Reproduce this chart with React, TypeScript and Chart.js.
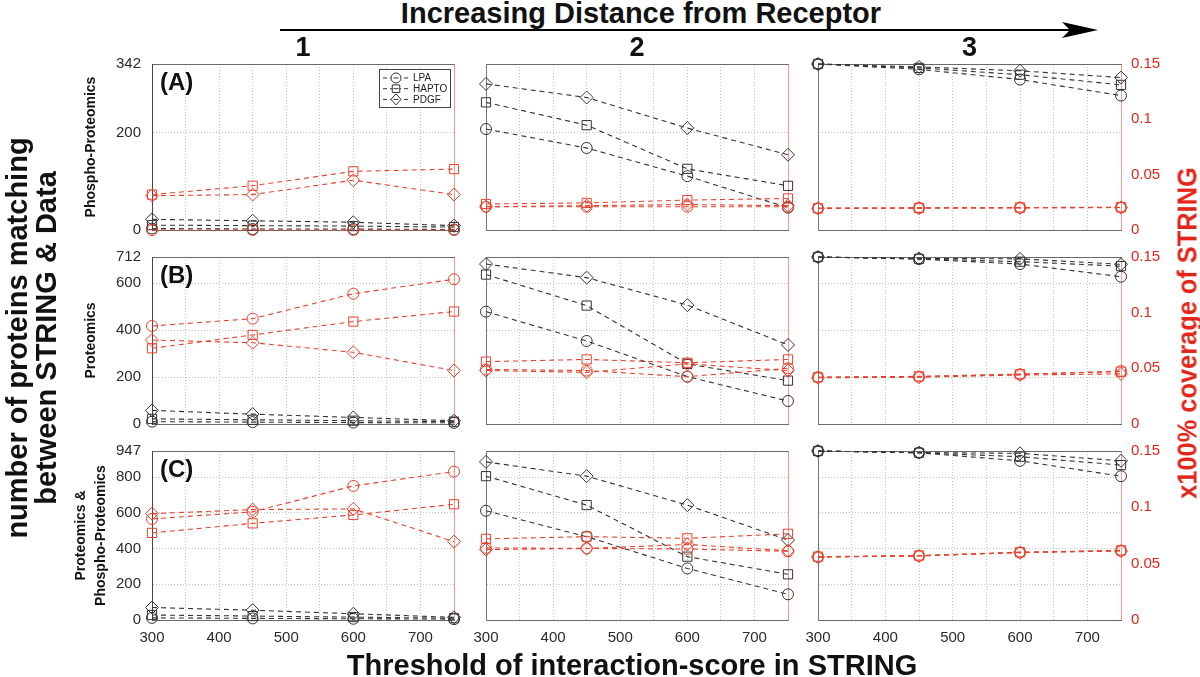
import React, { useEffect, useRef } from 'react';
import { Chart, registerables } from 'chart.js';

Chart.register(...registerables);

// ---------------- data ----------------
const THRESHOLDS = [300, 450, 600, 750];
const X_TICK_LABELS = [300, 400, 500, 600, 700];
const SERIES_NAMES = ['LPA', 'HAPTO', 'PDGF'];
const COLUMN_NAMES = ['1', '2', '3'];
const ROW_LETTERS = ['(A)', '(B)', '(C)'];
const ROW_NAMES: (string | string[])[] = ['Phospho-Proteomics', 'Proteomics', ['Proteomics &', 'Phospho-Proteomics']];
const ROW_MAX = [342, 712, 947];
const COUNT_TICKS_A = [0, 200, 342];
const COUNT_TICKS_B = [0, 200, 400, 600, 712];
const COUNT_TICKS_C = [0, 200, 400, 600, 800, 947];
const COVERAGE_TICKS = [0, 0.05, 0.1, 0.15];

// number of proteins matching (left axis) – rows: LPA, HAPTO, PDGF
const COUNT_A1 = [[3, 2, 2, 1], [10, 9, 8, 6], [22, 19, 16, 9]];
const COUNT_A2 = [[208, 169, 111, 46], [263, 216, 126, 91], [301, 273, 210, 155]];
const COUNT_A3 = [[342, 331, 310, 277], [342, 334, 320, 299], [342, 336, 328, 314]];
const COUNT_B1 = [[10, 8, 6, 5], [22, 18, 14, 10], [58, 42, 28, 14]];
const COUNT_B2 = [[479, 354, 202, 98], [637, 505, 256, 185], [682, 624, 507, 337]];
const COUNT_B3 = [[712, 703, 682, 628], [712, 704, 692, 673], [712, 706, 704, 681]];
const COUNT_C1 = [[12, 9, 7, 5], [28, 22, 16, 10], [70, 55, 35, 15]];
const COUNT_C2 = [[612, 467, 289, 144], [806, 644, 355, 256], [886, 806, 644, 448]];
const COUNT_C3 = [[947, 937, 892, 806], [947, 937, 915, 868], [947, 938, 934, 892]];

// x100% coverage of STRING (right axis) – rows: LPA, HAPTO, PDGF
const COVER_A1 = [[0, 0, 0, 0], [0.032, 0.040, 0.053, 0.055], [0.031, 0.032, 0.045, 0.032]];
const COVER_A2 = [[0.021, 0.021, 0.021, 0.021], [0.0235, 0.0245, 0.027, 0.0285], [0.021, 0.022, 0.023, 0.022]];
const COVER_A3 = [[0.0195, 0.0198, 0.02, 0.0203], [0.0197, 0.02, 0.0203, 0.0206], [0.0196, 0.0199, 0.0201, 0.0204]];
const COVER_B1 = [[0.088, 0.0946, 0.117, 0.13], [0.068, 0.08, 0.092, 0.101], [0.0754, 0.073, 0.0644, 0.048]];
const COVER_B2 = [[0.049, 0.048, 0.0425, 0.05], [0.056, 0.058, 0.055, 0.058], [0.048, 0.0464, 0.054, 0.048]];
const COVER_B3 = [[0.042, 0.0425, 0.0446, 0.0475], [0.042, 0.0428, 0.0448, 0.047], [0.0415, 0.042, 0.044, 0.045]];
const COVER_C1 = [[0.0897, 0.096, 0.119, 0.1317], [0.0773, 0.0858, 0.0932, 0.1027], [0.0944, 0.098, 0.0986, 0.0696]];
const COVER_C2 = [[0.064, 0.0635, 0.063, 0.061], [0.072, 0.074, 0.0725, 0.0765], [0.0625, 0.0635, 0.067, 0.0615]];
const COVER_C3 = [[0.056, 0.057, 0.06, 0.0615], [0.0562, 0.0572, 0.0602, 0.0618], [0.0558, 0.0568, 0.0598, 0.0612]];

const COUNTS = [[COUNT_A1, COUNT_A2, COUNT_A3], [COUNT_B1, COUNT_B2, COUNT_B3], [COUNT_C1, COUNT_C2, COUNT_C3]];
const COVERS = [[COVER_A1, COVER_A2, COVER_A3], [COVER_B1, COVER_B2, COVER_B3], [COVER_C1, COVER_C2, COVER_C3]];
const COUNT_TICKS = [COUNT_TICKS_A, COUNT_TICKS_B, COUNT_TICKS_C];

// ---------------- style / layout ----------------
const FONT = "'Liberation Sans', Arial, Helvetica, sans-serif";
const BLACK = '#333333';
const RED = '#e8402c';
const RED_AXIS = '#e3261b';
const GRID = '#c2c2c2';
const POINT_STYLES = ['circle', 'rect', 'rectRot'];
const POINT_RADII = [5.5, 6.5, 6.5];

const PANEL_X = [[152, 454], [486, 788], [818, 1121]];
const PANEL_Y = [[64, 230], [257, 424], [451, 620]];

const legendPlugin = {
  id: 'boxLegend',
  afterDatasetsDraw(chart: any, _args: any, opts: any) {
    if (!opts || !opts.show) return;
    const { ctx, chartArea } = chart;
    const items = chart.data.datasets.filter((d: any) => d.yAxisID === 'y');
    const w = 71, h = 38, rowH = 10.7;
    const x0 = Math.round(chartArea.right - 4 - w);
    const y0 = Math.round(chartArea.top + 5);
    ctx.save();
    ctx.fillStyle = '#ffffff';
    ctx.fillRect(x0, y0, w, h);
    ctx.strokeStyle = '#444';
    ctx.lineWidth = 1;
    ctx.strokeRect(x0 + 0.5, y0 + 0.5, w, h);
    items.forEach((d: any, i: number) => {
      const cy = y0 + 9 + i * rowH;
      const cx = x0 + 17;
      ctx.strokeStyle = BLACK;
      ctx.setLineDash([4, 3]);
      ctx.beginPath();
      ctx.moveTo(x0 + 4, cy);
      ctx.lineTo(x0 + 30, cy);
      ctx.stroke();
      ctx.setLineDash([]);
      ctx.beginPath();
      const r = 5;
      if (d.pointStyle === 'circle') ctx.arc(cx, cy, r, 0, Math.PI * 2);
      else if (d.pointStyle === 'rect') ctx.rect(cx - r * 0.75, cy - r * 0.75, r * 1.5, r * 1.5);
      else { ctx.moveTo(cx - r, cy); ctx.lineTo(cx, cy - r - 0.5); ctx.lineTo(cx + r, cy); ctx.lineTo(cx, cy + r + 0.5); ctx.closePath(); }
      ctx.fillStyle = '#fff';
      ctx.fill();
      ctx.stroke();
      ctx.beginPath();
      ctx.moveTo(cx - 2.5, cy);
      ctx.lineTo(cx + 2.5, cy);
      ctx.stroke();
      ctx.fillStyle = '#222';
      ctx.font = `10px ${FONT}`;
      ctx.textBaseline = 'middle';
      ctx.textAlign = 'left';
      ctx.fillText(d.label, x0 + 34, cy + 0.5);
    });
    ctx.restore();
  },
};

function Panel({ row, col }: { row: number; col: number }) {
  const ref = useRef<HTMLCanvasElement>(null);
  const isLeft = col === 0;
  const isRight = col === 2;
  const isBottom = row === 2;
  const Lw = isLeft ? 92 : 16;
  const Rw = isRight ? 60 : 12;
  const Tw = 12;
  const Bw = isBottom ? 40 : 12;
  const [px0, px1] = PANEL_X[col];
  const [py0, py1] = PANEL_Y[row];
  const left = px0 - Lw;
  const top = py0 - Tw;
  const width = px1 - px0 + Lw + Rw;
  const height = py1 - py0 + Tw + Bw;

  useEffect(() => {
    const counts = COUNTS[row][col];
    const covers = COVERS[row][col];
    const datasets: any[] = [];
    SERIES_NAMES.forEach((name, i) => {
      datasets.push({
        label: name,
        yAxisID: 'y1',
        data: THRESHOLDS.map((x, j) => ({ x, y: covers[i][j] })),
        borderColor: RED,
        pointBorderColor: RED,
        pointBackgroundColor: 'rgba(0,0,0,0)',
        pointStyle: POINT_STYLES[i],
        pointRadius: POINT_RADII[i],
        pointBorderWidth: 1,
        borderWidth: 1.1,
        borderDash: [5, 4],
        fill: false,
        tension: 0,
        clip: false,
      });
    });
    SERIES_NAMES.forEach((name, i) => {
      datasets.push({
        label: name,
        yAxisID: 'y',
        data: THRESHOLDS.map((x, j) => ({ x, y: counts[i][j] })),
        borderColor: BLACK,
        pointBorderColor: BLACK,
        pointBackgroundColor: 'rgba(0,0,0,0)',
        pointStyle: POINT_STYLES[i],
        pointRadius: POINT_RADII[i],
        pointBorderWidth: 1,
        borderWidth: 1.1,
        borderDash: [5, 4],
        fill: false,
        tension: 0,
        clip: false,
      });
    });
    const rowMax = ROW_MAX[row];
    const tickFont = { family: FONT, size: 15 };
    const twoLine = Array.isArray(ROW_NAMES[row]);
    const chart = new Chart(ref.current as HTMLCanvasElement, {
      type: 'line',
      data: { datasets },
      plugins: [legendPlugin],
      options: {
        responsive: false,
        maintainAspectRatio: false,
        animation: false,
        devicePixelRatio: 1,
        events: [],
        layout: { padding: 0, autoPadding: false },
        plugins: {
          legend: { display: false },
          tooltip: { enabled: false },
          title: { display: false },
          boxLegend: { show: row === 0 && col === 0 },
        } as any,
        scales: {
          x: {
            type: 'linear',
            position: 'bottom',
            min: 300,
            max: 750,
            ticks: {
              display: isBottom,
              stepSize: 50,
              autoSkip: false,
              maxRotation: 0,
              padding: 9,
              color: '#2a2a2a',
              font: tickFont,
              callback: (v: any) => (X_TICK_LABELS.includes(Number(v)) ? String(v) : ''),
            },
            grid: {
              drawTicks: false,
              lineWidth: 1,
              color: (c: any) => (c.tick && (c.tick.value === 300 || c.tick.value === 750) ? 'rgba(0,0,0,0)' : GRID),
            },
            border: { display: true, color: '#6a6a6a', width: 1, dash: [1, 2] },
            afterFit: (s: any) => { s.height = Bw; s.paddingLeft = 0; s.paddingRight = 0; },
          },
          x2: {
            type: 'linear',
            position: 'top',
            min: 300,
            max: 750,
            ticks: { display: false },
            grid: { display: false, drawTicks: false },
            border: { display: true, color: '#6a6a6a', width: 1 },
            afterFit: (s: any) => { s.height = Tw; s.paddingLeft = 0; s.paddingRight = 0; },
          },
          y: {
            type: 'linear',
            position: 'left',
            min: 0,
            max: rowMax,
            afterBuildTicks: (s: any) => { s.ticks = COUNT_TICKS[row].map((v) => ({ value: v })); },
            ticks: {
              display: isLeft,
              padding: 11,
              color: '#2a2a2a',
              font: tickFont,
              callback: (v: any) => String(v),
            },
            grid: {
              drawTicks: false,
              lineWidth: 1,
              color: (c: any) => (c.tick && (c.tick.value === 0 || c.tick.value === rowMax) ? 'rgba(0,0,0,0)' : GRID),
            },
            border: { display: true, color: isLeft ? '#444' : '#7a7a7a', width: 1, dash: [1, 2] },
            title: {
              display: isLeft,
              text: ROW_NAMES[row] as any,
              color: '#111',
              font: { family: FONT, size: 14, weight: 'bold', lineHeight: '20px' },
              padding: { top: twoLine ? 11 : 21, bottom: 0 },
            },
            afterFit: (s: any) => { s.width = Lw; s.paddingTop = 0; s.paddingBottom = 0; },
          },
          y1: {
            type: 'linear',
            position: 'right',
            min: 0,
            max: 0.15,
            afterBuildTicks: (s: any) => { s.ticks = COVERAGE_TICKS.map((v) => ({ value: v })); },
            ticks: {
              display: isRight,
              padding: 10,
              color: RED_AXIS,
              font: tickFont,
              callback: (v: any) => String(v),
            },
            grid: { drawOnChartArea: false, drawTicks: false },
            border: { display: true, color: 'rgba(226,90,70,0.6)', width: 1 },
            afterFit: (s: any) => { s.width = Rw; s.paddingTop = 0; s.paddingBottom = 0; },
          },
        } as any,
      },
    } as any);
    return () => chart.destroy();
  }, [row, col]);

  return (
    <canvas
      ref={ref}
      width={width}
      height={height}
      style={{ position: 'absolute', left, top, width, height }}
    />
  );
}

const bold = { fontWeight: 'bold' as const, whiteSpace: 'nowrap' as const, position: 'absolute' as const };

export default function App() {
  const panels: React.ReactNode[] = [];
  for (let r = 0; r < 3; r++) for (let c = 0; c < 3; c++) panels.push(<Panel key={`${r}-${c}`} row={r} col={c} />);
  return (
    <div
      style={{
        position: 'absolute',
        left: 0,
        top: 0,
        width: 1200,
        height: 677,
        background: '#ffffff',
        overflow: 'hidden',
        fontFamily: FONT,
        color: '#111',
      }}
    >
      {panels}
      <div style={{ ...bold, left: 0, width: 1282, top: -1, textAlign: 'center', fontSize: 29, lineHeight: '29px' }}>
        Increasing Distance from Receptor
      </div>
      <svg width={1200} height={60} style={{ position: 'absolute', left: 0, top: 0 }}>
        <line x1={280} y1={30} x2={1072} y2={30} stroke="#000" strokeWidth={2} />
        <polygon points="1062,22 1098,30 1062,38 1070,30" fill="#000" />
      </svg>
      {COLUMN_NAMES.map((name, c) => (
        <div
          key={name}
          style={{ ...bold, left: (PANEL_X[c][0] + PANEL_X[c][1]) / 2 - 50, width: 100, top: 34, textAlign: 'center', fontSize: 27, lineHeight: '27px' }}
        >
          {name}
        </div>
      ))}
      {ROW_LETTERS.map((name, r) => (
        <div key={name} style={{ ...bold, left: 160, top: PANEL_Y[r][0] + 6, fontSize: 24, lineHeight: '24px' }}>
          {name}
        </div>
      ))}
      <div
        style={{
          ...bold,
          left: 32,
          top: 338,
          width: 520,
          textAlign: 'center',
          fontSize: 29,
          lineHeight: '29px',
          transform: 'translate(-50%, -50%) rotate(-90deg)',
        }}
      >
        <div>number of proteins matching</div>
        <div>between STRING &amp; Data</div>
      </div>
      <div
        style={{
          ...bold,
          left: 1188,
          top: 333,
          width: 500,
          textAlign: 'center',
          fontSize: 27,
          lineHeight: '27px',
          color: RED_AXIS,
          transform: 'translate(-50%, -50%) rotate(-90deg) scaleX(0.94)',
        }}
      >
        x100% coverage of STRING
      </div>
      <div style={{ ...bold, left: 0, width: 1264, top: 651, textAlign: 'center', fontSize: 29, lineHeight: '29px' }}>
        Threshold of interaction-score in STRING
      </div>
    </div>
  );
}
